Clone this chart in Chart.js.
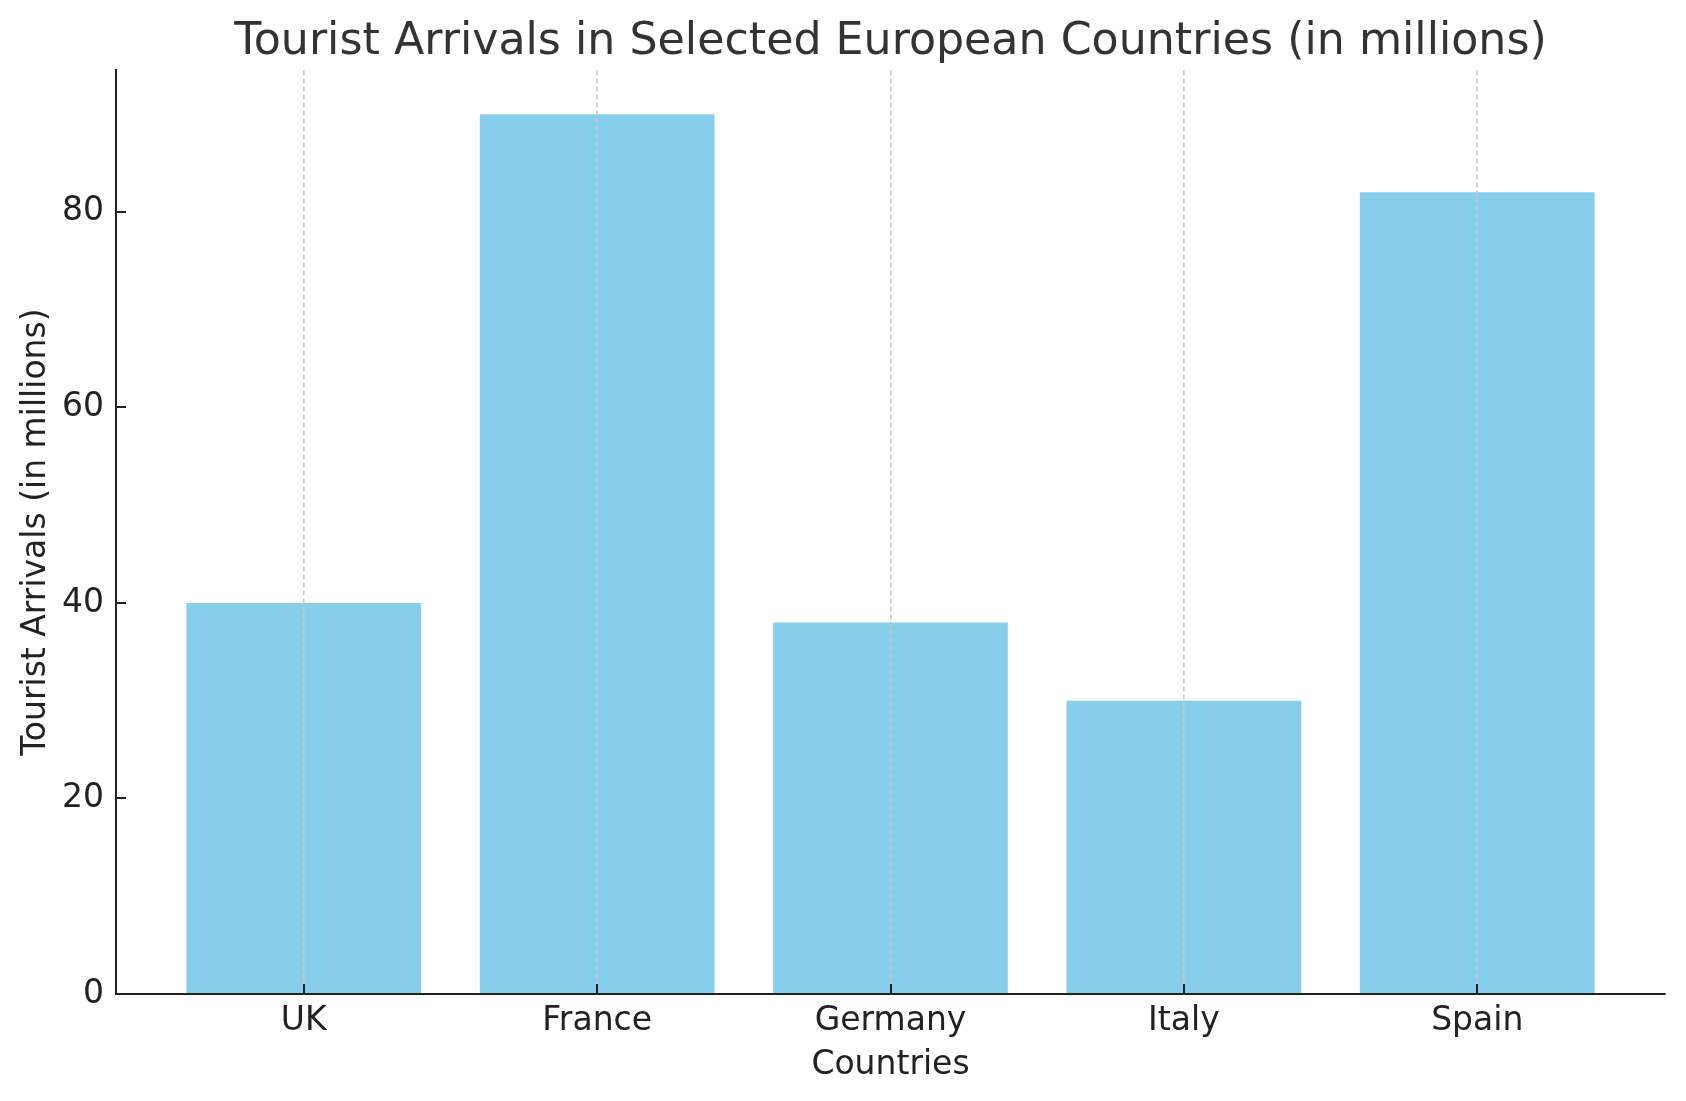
<!DOCTYPE html>
<html>
<head>
<meta charset="utf-8">
<title>Tourist Arrivals</title>
<script src="https://cdn.jsdelivr.net/npm/chart.js@4.4.1/dist/chart.umd.min.js"></script>
<style>
  html, body { margin: 0; padding: 0; background: #fff; }
  canvas { display: block; }
</style>
</head>
<body>
<canvas id="touristChart" width="1686" height="1101"></canvas>
<script>
// data
const countries = ['UK', 'France', 'Germany', 'Italy', 'Spain'];
const arrivals = [40, 90, 38, 30, 82];
const yTicks = [0, 20, 40, 60, 80];

const axisColor = '#222222';

// matplotlib style ticks pointing into the plot
const inwardTicks = {
  id: 'inwardTicks',
  afterDraw(chart) {
    const { ctx, chartArea, scales } = chart;
    ctx.save();
    ctx.strokeStyle = axisColor;
    ctx.lineWidth = 2;
    ctx.beginPath();
    countries.forEach((c, i) => {
      const x = Math.round(scales.x.getPixelForValue(i));
      ctx.moveTo(x, chartArea.bottom);
      ctx.lineTo(x, chartArea.bottom - 10);
    });
    yTicks.forEach(v => {
      const y = Math.round(scales.y.getPixelForValue(v));
      ctx.moveTo(chartArea.left, y);
      ctx.lineTo(chartArea.left + 10, y);
    });
    ctx.stroke();
    ctx.restore();
  }
};

Chart.defaults.font.family = '"DejaVu Sans", sans-serif';
Chart.defaults.color = axisColor;

new Chart(document.getElementById('touristChart'), {
  type: 'bar',
  data: {
    datasets: [{
      label: 'Tourist Arrivals',
      data: countries.map((c, i) => ({ x: i, y: arrivals[i] })),
      backgroundColor: '#87CEEB',
      borderWidth: 0,
      barPercentage: 0.8,
      categoryPercentage: 1.0
    }]
  },
  options: {
    responsive: false,
    animation: false,
    layout: { padding: { left: 0, right: 21, top: 0, bottom: 0 } },
    plugins: {
      legend: { display: false },
      tooltip: { enabled: false },
      title: {
        display: true,
        fullSize: false,
        text: 'Tourist Arrivals in Selected European Countries (in millions)',
        color: '#333333',
        font: { size: 44.3, weight: 'normal' },
        padding: { top: 16.2, bottom: 0.8 }
      }
    },
    scales: {
      x: {
        type: 'linear',
        min: -0.64,
        max: 4.64,
        offset: false,
        afterBuildTicks: scale => {
          scale.ticks = countries.map((c, i) => ({ value: i }));
        },
        afterFit: scale => { scale.height = 107; },
        ticks: {
          color: axisColor,
          font: { size: 33 },
          padding: 7.5,
          maxRotation: 0,
          callback: v => countries[v]
        },
        grid: {
          display: true,
          offset: false,
          z: 1,
          drawOnChartArea: true,
          drawTicks: false,
          color: '#c8c8c8',
          lineWidth: 1.6
        },
        border: { display: true, color: axisColor, width: 2, dash: [5, 3], z: 2 },
        title: {
          display: true,
          text: 'Countries',
          color: axisColor,
          font: { size: 33 },
          padding: { top: 0, bottom: 15.6 }
        }
      },
      y: {
        min: 0,
        max: 94.5,
        afterBuildTicks: scale => {
          scale.ticks = yTicks.map(v => ({ value: v }));
        },
        afterFit: scale => { scale.width = 116; },
        ticks: {
          color: axisColor,
          font: { size: 33 },
          padding: 12
        },
        grid: { display: false, drawTicks: false },
        border: { display: true, color: axisColor, width: 2, z: 2 },
        title: {
          display: true,
          text: 'Tourist Arrivals (in millions)',
          color: axisColor,
          font: { size: 33 },
          padding: { top: 16.8, bottom: 0 }
        }
      }
    }
  },
  plugins: [inwardTicks]
});
</script>
</body>
</html>
